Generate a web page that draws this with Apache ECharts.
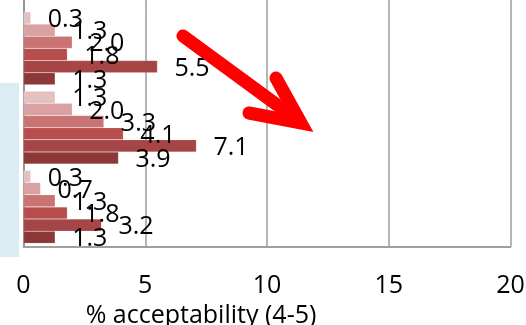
<!DOCTYPE html>
<html>
<head>
<meta charset="utf-8">
<script src="https://cdn.jsdelivr.net/npm/echarts@6/dist/echarts.min.js"></script>
<style>
html,body{margin:0;padding:0;background:#fff;}
#chart{width:526px;height:325px;}
</style>
</head>
<body>
<div id="chart"></div>
<script>
// Data
const categories = ['Group 1', 'Group 2', 'Group 3'];
const s1 = [0.3, 1.3, 0.3];
const s2 = [1.3, 2.0, 0.7];
const s3 = [2.0, 3.3, 1.3];
const s4 = [1.8, 4.1, 1.8];
const s5 = [5.5, 7.1, 3.2];
const s6 = [1.3, 3.9, 1.3];
const xTicks = [0, 5, 10, 15, 20];
const axisTitle = '% acceptability (4-5)';

const seriesData = [s1, s2, s3, s4, s5, s6];
const colors = ['#e3c1c1', '#d9a1a1', '#c97373', '#b84d4d', '#a64545', '#8c3838'];
const FONT = '"Open Sans", sans-serif';

const chart = echarts.init(document.getElementById('chart'));
const series = seriesData.map((d, i) => ({
  type: 'bar',
  xAxisIndex: 0, yAxisIndex: 0,
  data: d,
  barGap: '0%',
  barCategoryGap: '8%',
  itemStyle: { color: colors[i], borderColor: 'rgba(255,255,255,0.25)', borderWidth: 0.5 },
  label: {
    show: true, position: 'right', distance: 17, offset: [0, 2],
    color: '#000', fontSize: 25, fontFamily: FONT,
    formatter: p => p.value.toFixed(1)
  },
  silent: true,
  animation: false
}));

chart.setOption({
  animation: false,
  grid: [
    { left: 23.5, right: 15.5, top: 8.75, bottom: 78.5, containLabel: false, outerBoundsMode: 'none' },
    { left: 23.5, right: 15.5, top: 0, height: 8.75, containLabel: false, outerBoundsMode: 'none' }
  ],
  xAxis: [
    {
      type: 'value', gridIndex: 0, min: xTicks[0], max: xTicks[xTicks.length - 1], interval: 5,
      axisLine: { show: true, lineStyle: { color: '#a0a0a0', width: 2 } },
      axisTick: { show: false },
      splitLine: { show: true, lineStyle: { color: '#9c9c9c', width: 1.5 } },
      axisLabel: { color: '#000', fontSize: 25, fontFamily: FONT, margin: 27 },
      name: axisTitle, nameLocation: 'middle', nameGap: 57,
      nameTextStyle: { color: '#000', fontSize: 25, fontFamily: FONT, padding: [0, 132, 0, 0] }
    },
    {
      type: 'value', gridIndex: 1, min: 0, max: 20, interval: 5,
      axisLine: { show: false }, axisTick: { show: false }, axisLabel: { show: false },
      splitLine: { show: true, lineStyle: { color: '#9c9c9c', width: 1.5 } }
    }
  ],
  yAxis: [
    {
      type: 'category', gridIndex: 0, data: categories, inverse: true,
      axisLine: { show: true, lineStyle: { color: '#8c8c8c', width: 1.5 } },
      axisTick: { show: false }, axisLabel: { show: false }
    },
    {
      type: 'category', gridIndex: 1, data: [''],
      axisLine: { show: true, lineStyle: { color: '#8c8c8c', width: 1.5 } },
      axisTick: { show: false }, axisLabel: { show: false }
    }
  ],
  graphic: [
    { type: 'rect', shape: { x: 0, y: 83, width: 19, height: 174 }, style: { fill: '#daedf3' }, z: -1 },
    { type: 'polyline', shape: { points: [[183, 36], [299, 121]] },
      style: { stroke: '#ff0000', lineWidth: 13, lineCap: 'round', fill: null }, z: 10 },
    { type: 'polyline', shape: { points: [[276, 78], [301, 123], [249, 113]] },
      style: { stroke: '#ff0000', lineWidth: 13, lineCap: 'round', lineJoin: 'miter', fill: null }, z: 10 }
  ],
  series: series
});
</script>
</body>
</html>
